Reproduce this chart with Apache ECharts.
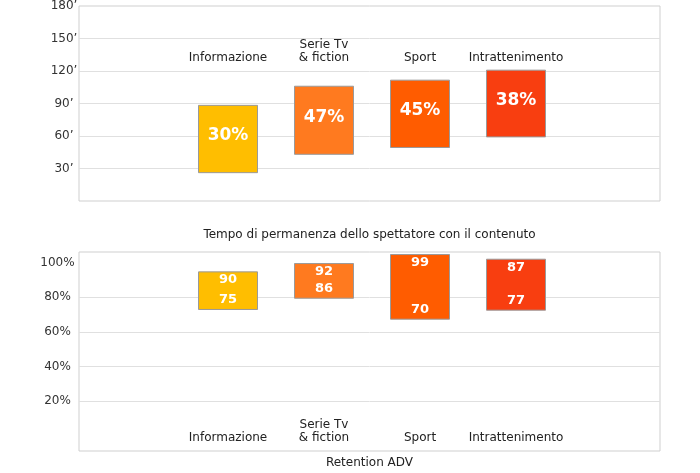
<!DOCTYPE html>
<html><head><meta charset="utf-8">
<script src="https://cdn.jsdelivr.net/npm/echarts@6/dist/echarts.min.js"></script>
<style>html,body{margin:0;padding:0;background:#fff}#c{width:700px;height:473px}</style>
</head><body><div id="c"></div>
<script>
// ---- data ----
const categories = ['Informazione', 'Serie Tv\n& fiction', 'Sport', 'Intrattenimento'];
const timeLow = [25.3, 42, 48.2, 57.8];          // minutes (bar bottom)
const timeHigh = [87.4, 104.8, 110.3, 119.4];    // minutes (bar top)
const timePct = ['30%', '47%', '45%', '38%'];
const retLow = [72.7, 79.2, 67.1, 72.3];         // % (bar bottom)
const retHigh = [95, 99.8, 105, 102.3];          // % (bar top)
const retHighLabels = ['90', '92', '99', '87'];
const retLowLabels = ['75', '86', '70', '77'];
const timeAxisTitle = 'Tempo di permanenza dello spettatore con il contenuto';
const retAxisTitle = 'Retention ADV';

// ---- styles ----
const FONT = 'DejaVu Sans';
const barColors = ['#FFBE00', '#FF7A1F', '#FF5C00', '#F83E10'];
const gridColor = '#e0e0e0';
const frameColor = '#cfcfcf';

const pad = a => [null, ...a, null];
const axisCats = ['', ...categories, ''];

const rangeData = (low, high) => pad(low.map((l, i) => ({
  value: high[i] - l,
  itemStyle: { color: barColors[i] }
})));

const nameStyle = { color: '#222', fontSize: 12, fontFamily: FONT };
const hiddenCat = (gi, extra) => Object.assign({
  type: 'category', gridIndex: gi, data: axisCats, position: 'bottom',
  axisLine: { show: false, onZero: false }, axisTick: { show: false }, axisLabel: { show: false }
}, extra || {});
const splitStyle = { show: true, showMinLine: false, showMaxLine: false, lineStyle: { color: gridColor, width: 1 } };

const chart = echarts.init(document.getElementById('c'), null, { renderer: 'canvas' });
chart.setOption({
  animation: false,
  textStyle: { fontFamily: FONT },
  grid: [
    { left: 84, right: 40, top: 3, bottom: 272 },                 // 0 top data
    { left: 84, right: 40, top: 262.7, bottom: 37.1 },            // 1 bottom data
    { left: 79, right: 40, top: 3, bottom: 272, show: true, borderColor: frameColor, borderWidth: 1, backgroundColor: 'transparent' }, // 2 top frame
    { left: 79, right: 40, top: 252, bottom: 22, show: true, borderColor: frameColor, borderWidth: 1, backgroundColor: 'transparent' },  // 3 bottom frame
    { left: 79, right: 40, top: 262.7, bottom: 37.1 }             // 4 bottom scale
  ],
  xAxis: [
    { type: 'category', gridIndex: 0, data: axisCats, position: 'top', offset: -63,
      axisLine: { show: false, onZero: false }, axisTick: { show: false },
      axisLabel: { color: '#222', fontSize: 12, fontFamily: FONT, margin: 2, lineHeight: 13, interval: 0 } },
    { type: 'category', gridIndex: 1, data: axisCats, position: 'bottom', offset: 15,
      axisLine: { show: false, onZero: false }, axisTick: { show: false },
      axisLabel: { inside: true, color: '#222', fontSize: 12, fontFamily: FONT, margin: 7, lineHeight: 13, interval: 0 } },
    hiddenCat(2, { name: timeAxisTitle, nameLocation: 'middle', nameGap: 28, nameTextStyle: nameStyle }),
    hiddenCat(3, { name: retAxisTitle, nameLocation: 'middle', nameGap: 6, nameTextStyle: nameStyle }),
    hiddenCat(4)
  ],
  yAxis: [
    { type: 'value', gridIndex: 0, min: 0, max: 180, interval: 30, show: false, splitLine: { show: false } },
    { type: 'value', gridIndex: 1, min: 0, max: 100, interval: 20, show: false, splitLine: { show: false } },
    { type: 'value', gridIndex: 2, min: 0, max: 180, interval: 30,
      axisLine: { show: false }, axisTick: { show: false },
      axisLabel: { color: '#333', fontSize: 12, fontFamily: FONT, align: 'center', margin: 15,
        formatter: v => v === 0 ? '' : v + '\u2019' },
      splitLine: splitStyle },
    { type: 'value', gridIndex: 3, show: false, splitLine: { show: false } },
    { type: 'value', gridIndex: 4, min: 0, max: 100, interval: 20,
      axisLine: { show: false }, axisTick: { show: false },
      axisLabel: { color: '#333', fontSize: 12, fontFamily: FONT, align: 'center', margin: 21.5,
        formatter: v => v === 0 ? '' : v + '%' },
      splitLine: splitStyle }
  ],
  series: [
    { type: 'bar', xAxisIndex: 0, yAxisIndex: 0, stack: 't', barWidth: 60, z: 3,
      itemStyle: { color: 'transparent' }, data: pad(timeLow), silent: true },
    { type: 'bar', xAxisIndex: 0, yAxisIndex: 0, stack: 't', barWidth: 60, z: 2,
      itemStyle: { borderColor: '#9a9a9a', borderWidth: 1 },
      label: { show: true, position: 'inside', offset: [0, -3], color: '#fff', fontSize: 17, fontWeight: 'bold', fontFamily: FONT,
        formatter: p => timePct[p.dataIndex - 1] },
      data: rangeData(timeLow, timeHigh) },
    { type: 'bar', xAxisIndex: 1, yAxisIndex: 1, stack: 'r', barWidth: 60, z: 3, clip: false,
      itemStyle: { color: 'transparent' },
      label: { show: true, position: 'top', distance: 4, color: '#fff', fontSize: 13, fontWeight: 'bold', fontFamily: FONT,
        formatter: p => retLowLabels[p.dataIndex - 1] },
      data: pad(retLow), silent: true },
    { type: 'bar', xAxisIndex: 1, yAxisIndex: 1, stack: 'r', barWidth: 60, z: 2, clip: false,
      itemStyle: { borderColor: '#9a9a9a', borderWidth: 1 },
      label: { show: true, position: 'insideTop', distance: 2, color: '#fff', fontSize: 13, fontWeight: 'bold', fontFamily: FONT,
        formatter: p => retHighLabels[p.dataIndex - 1] },
      data: rangeData(retLow, retHigh) }
  ]
});
</script></body></html>
